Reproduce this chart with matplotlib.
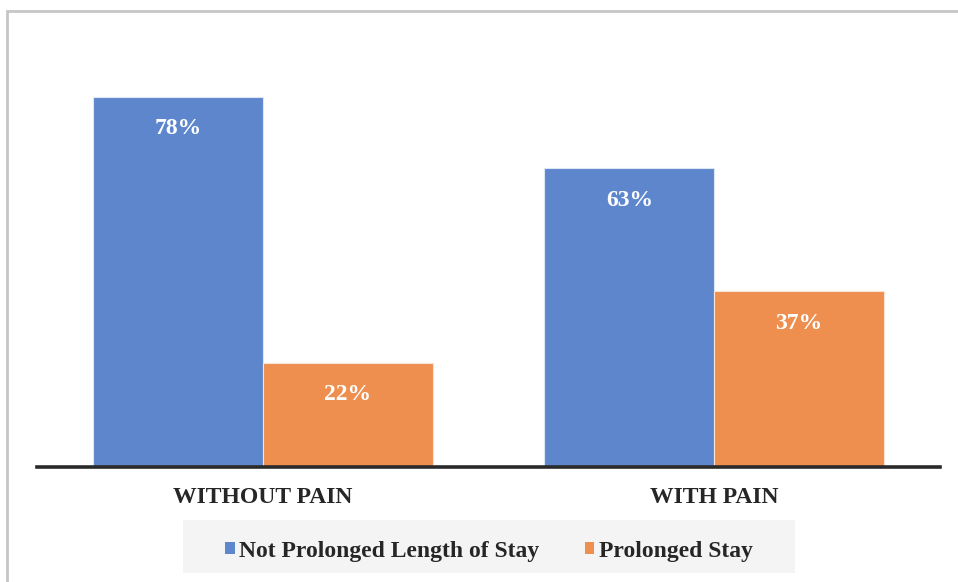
import numpy as np
import matplotlib.pyplot as plt
from matplotlib.patches import Patch, Rectangle

# Data
groups = ['WITHOUT PAIN', 'WITH PAIN']
series = ['Not Prolonged Length of Stay', 'Prolonged Stay']
not_prolonged = [78, 63]
prolonged = [22, 37]

colors = ['#5E86CD', '#EE8F4F']
txt_color = '#262626'
font = 'Liberation Serif'

plt.rcParams['font.family'] = [font, 'DejaVu Serif']
plt.rcParams['font.weight'] = 'bold'

fig = plt.figure(figsize=(9.58, 5.82), dpi=100)
W, H = 958., 582.
ax = fig.add_axes([37/W, 1-467/H, (940-37)/W, (467-40)/H])

x = np.arange(len(groups))
w = 0.376
b1 = ax.bar(x - w/2, not_prolonged, w, color=colors[0], edgecolor='#DCE6F5', linewidth=0.8, label=series[0])
b2 = ax.bar(x + w/2, prolonged, w, color=colors[1], edgecolor='#FBE3D3', linewidth=0.8, label=series[1])

# Value labels inside the top of each bar
for bars, vals in ((b1, not_prolonged), (b2, prolonged)):
    for r, v in zip(bars, vals):
        ax.annotate('{}%'.format(v), (r.get_x() + r.get_width()/2, v),
                    xytext=(0, -32), textcoords='offset pixels',
                    ha='center', va='center', color='white',
                    fontsize=17, fontweight='bold')

ax.set_xlim(-0.5, 1.5)
ax.set_ylim(0, 90)
ax.set_yticks([])
ax.set_xticks(x)
ax.set_xticklabels(groups, fontsize=17, fontweight='bold', color=txt_color)
ax.tick_params(axis='x', length=0, pad=14.5)
for s in ['top', 'left', 'right']:
    ax.spines[s].set_visible(False)
ax.spines['bottom'].set_linewidth(2.6)
ax.spines['bottom'].set_color('#2a2a2a')

# Outer frame and legend background
fig.patches.append(Rectangle((7/W, -0.05), 1.1, 1-11/H+0.05, transform=fig.transFigure,
                             facecolor='none', edgecolor='#C6C6C6', linewidth=2))
fig.patches.append(Rectangle((183/W, 1-573/H), 612/W, 53/H, transform=fig.transFigure,
                             facecolor='#F4F4F4', edgecolor='none'))

handles = [Patch(facecolor=c) for c in colors]
leg = fig.legend(handles, series, loc='center', bbox_to_anchor=(489/W, 1-551/H),
                 ncol=2, frameon=False, handlelength=0.42, handleheight=0.42,
                 handletextpad=0.2, columnspacing=1.9,
                 prop={'family': font, 'weight': 'bold', 'size': 17})
for t in leg.get_texts():
    t.set_color(txt_color)

fig.savefig('out.png', dpi=100)
